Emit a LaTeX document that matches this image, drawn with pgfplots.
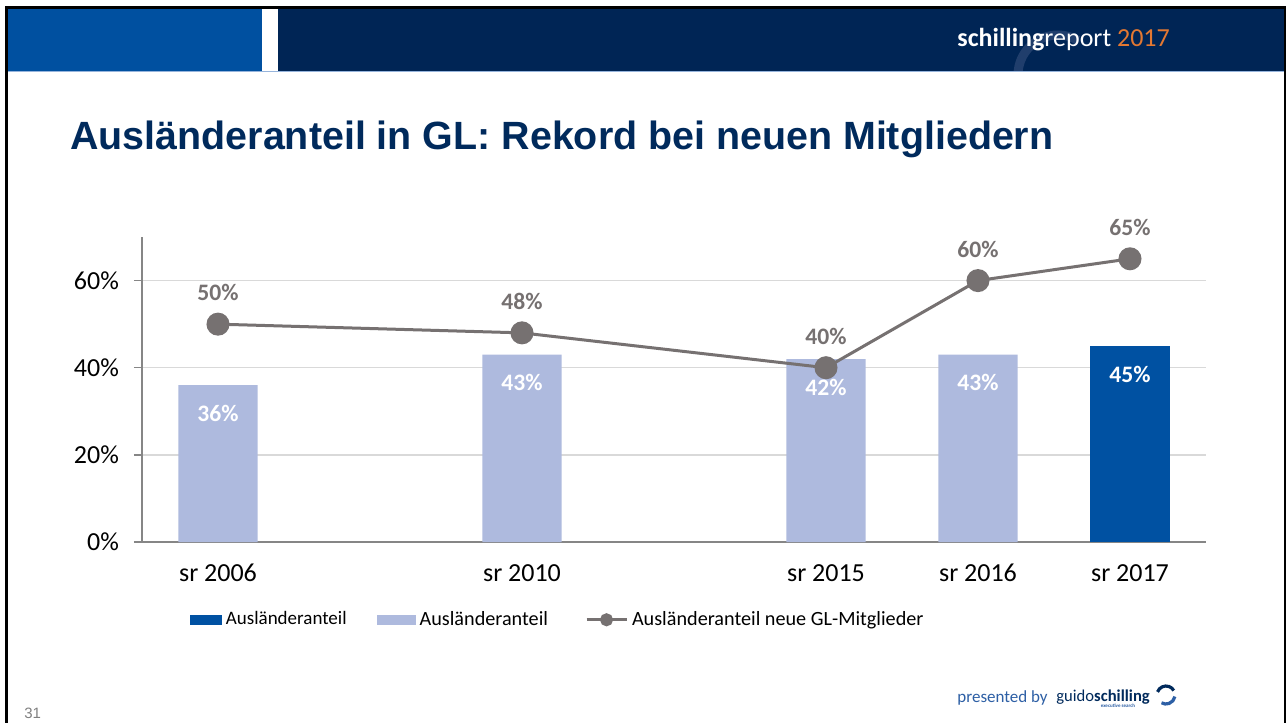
\documentclass[border=0pt]{standalone}
\usepackage{fontspec}
\setmainfont{Carlito}
\newfontfamily\arialfont{Liberation Sans}
\usepackage{pgfplots}
\pgfplotsset{compat=1.18}
\definecolor{hdrblue}{RGB}{0,80,160}
\definecolor{hdrnavy}{RGB}{0,37,85}
\definecolor{titlenavy}{RGB}{0,42,92}
\definecolor{barlight}{RGB}{174,186,222}
\definecolor{bardark}{RGB}{0,81,162}
\definecolor{linegrey}{RGB}{118,113,113}
\definecolor{gridgrey}{RGB}{217,217,217}
\definecolor{axisgrey}{RGB}{134,134,134}
\definecolor{orange2017}{RGB}{227,120,50}
\definecolor{footblue}{RGB}{45,95,165}
\definecolor{arcnavy}{RGB}{32,62,108}
\begin{document}
\begin{tikzpicture}[x=0.5pt,y=-0.5pt]
\path[use as bounding box] (0,0) rectangle (1287,723);
\fill[white] (0,0) rectangle (1287,723);
% header
\fill[hdrblue] (8,9) rectangle (262,71);
\fill[hdrnavy] (278,9) rectangle (1284,71);
\begin{scope}
\clip (278,9) rectangle (1284,71);
\draw[arcnavy, line width=4.5pt] (1058,75) ++(180:40) arc[start angle=180, end angle=300, radius=40];
\end{scope}
\draw[color={rgb,255:red,150;green,180;blue,220}, line width=0.6pt] (8,71.5) -- (1284,71.5);
\draw[black, line width=1.5pt] (5,7.5) -- (1286,7.5);
\draw[black, line width=1.5pt] (6.5,7) -- (6.5,723);
\draw[black, line width=1.2pt] (1284.8,7) -- (1284.8,723);
\node[anchor=base west, inner sep=0, text=white, font=\fontsize{13}{15}\selectfont] at (957,46) {\textbf{schilling}report \textcolor{orange2017}{2017}};
% title
\node[anchor=base west, inner sep=0, text=titlenavy, font=\arialfont\bfseries\fontsize{19.7}{23}\selectfont] at (70,149) {Ausländeranteil in GL: Rekord bei neuen Mitgliedern};
% footer
\node[anchor=base west, inner sep=0, text=footblue, font=\fontsize{8.5}{10}\selectfont] at (957,702) {presented by};
\node[anchor=base west, inner sep=0, text=titlenavy, font=\fontsize{8.3}{10}\selectfont] at (1056,701) {guido\textbf{schilling}};
\node[anchor=base, inner sep=0, text=footblue, font=\bfseries\fontsize{2.5}{3}\selectfont] at (1118,707) {executive search};
\draw[titlenavy, line width=1.6pt] (1166,695) ++(200:9) arc[start angle=200, end angle=330, radius=9];
\draw[footblue, line width=1.6pt] (1166,695) ++(10:9) arc[start angle=10, end angle=120, radius=9];
\node[anchor=base west, inner sep=0, text=gray, font=\arialfont\fontsize{7.5}{9}\selectfont] at (24,718) {31};
% chart
\begin{axis}[
  at={(71pt,-271pt)}, anchor=south west,
  width=532pt, height=152.5pt, scale only axis,
  xmin=-0.5, xmax=6.5, ymin=0, ymax=70,
  axis x line*=bottom, axis y line*=left,
  axis line style={axisgrey, line width=1pt},
  /pgf/number format/assume math mode=true,
  ytick={0,20,40,60}, yticklabels={0\%,20\%,40\%,60\%},
  ymajorgrids, major grid style={gridgrey, line width=0.75pt},
  xtick={0,2,4,5,6}, xticklabels={sr 2006,sr 2010,sr 2015,sr 2016,sr 2017},
  minor xtick={-0.5,0.5,...,6.5},
  tick align=outside,
  major tick length=4pt, minor tick length=3.5pt,
  xtick style={draw=none},
  ytick style={axisgrey, line width=0.75pt},
  minor x tick style={axisgrey, line width=0.75pt},
  tick label style={font=\fontsize{13}{15}\selectfont, text=black},
  xticklabel style={anchor=north, text height=9pt, text depth=2.5pt, yshift=-3pt},
  yticklabel style={xshift=-4pt},
  legend style={at={(0.039,-0.255)}, anchor=west, draw=none, fill=none,
    font=\fontsize{10.1}{12}\selectfont, legend columns=3,
    /tikz/every even column/.append style={column sep=13pt}},
]
\addplot[ybar, bar width=0.52, bar shift=0pt, fill=bardark, draw=none,
  legend image code/.code={\fill[bardark] (0pt,-2.5pt) rectangle (16pt,2.5pt);}]
  coordinates {(6,45)};
\addlegendentry{\fontsize{9.5}{12}\selectfont Ausländeranteil}
\addplot[ybar, bar width=0.52, bar shift=0pt, fill=barlight, draw=none,
  legend image code/.code={\fill[barlight] (0pt,-2.5pt) rectangle (19.5pt,2.5pt);}]
  coordinates {(0,36) (2,43) (4,42) (5,43)};
\addlegendentry{Ausländeranteil}
\addplot[linegrey, line width=1.5pt, mark=*, mark size=5pt, mark options={fill=linegrey, draw=linegrey},
  nodes near coords={\pgfmathprintnumber{\pgfplotspointmeta}\%},
  every node near coord/.append style={font=\bfseries\fontsize{11.8}{14}\selectfont, text=linegrey, anchor=south, yshift=7.5pt},
  legend image code/.code={\path (0pt,0pt); \draw[linegrey, line width=1.5pt] (3.5pt,0pt) -- (23.5pt,0pt); \fill[linegrey] (13.5pt,0pt) circle (2.5pt);}]
  coordinates {(0,50) (2,48) (4,40) (5,60) (6,65)};
\addlegendentry{Ausländeranteil neue GL-Mitglieder}
% bar labels on top
\addplot[draw=none, mark=none, forget plot,
  nodes near coords={\pgfmathprintnumber{\pgfplotspointmeta}\%},
  every node near coord/.append style={font=\bfseries\fontsize{11.8}{14}\selectfont, text=white, anchor=north, yshift=-6.5pt}]
  coordinates {(0,36) (2,43) (4,42) (5,43) (6,45)};
\end{axis}
\end{tikzpicture}
\end{document}
